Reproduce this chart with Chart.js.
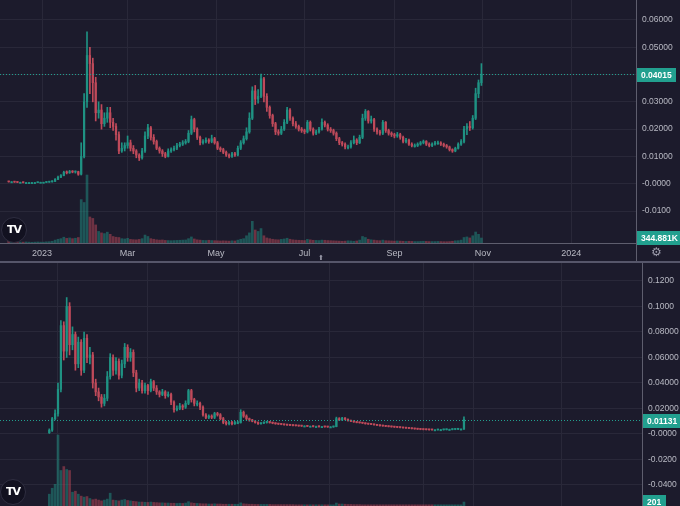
<!DOCTYPE html>
<html>
<head>
<meta charset="utf-8">
<script src="https://cdn.jsdelivr.net/npm/chart.js@4.4.1/dist/chart.umd.min.js"></script>
<style>
  body { margin: 0; background: #1c1b2c; width: 680px; height: 506px; overflow: hidden; position: relative; font-family: 'Liberation Sans', Arial, sans-serif; }
  .pane { position: absolute; left: 0; width: 680px; }
  .sep { position: absolute; left: 0; top: 261px; width: 680px; height: 2px; background: #56566a; }
  .logo { position: absolute; width: 24px; height: 24px; border-radius: 50%; background: #121120; border: 1px solid #2f2e40;
          color: #fff; font: 900 11px 'DejaVu Sans', sans-serif; letter-spacing: -1px; text-align: center; line-height: 24px; }
  .icon { position: absolute; color: #9c9cab; font-family: 'DejaVu Sans', sans-serif; }
</style>
</head>
<body>
<div class="pane" style="top:0;height:261px"><canvas id="topChart"></canvas></div>
<div class="sep"></div>
<div class="pane" style="top:263px;height:243px"><canvas id="bottomChart"></canvas></div>
<div class="logo" style="left:1px;top:217px">TV</div>
<div class="logo" style="left:0px;top:479px">TV</div>
<div class="icon" style="left:651px;top:245px;font-size:12px">⚙</div>
<div class="icon" style="left:318px;top:254px;font-size:7px">⬆</div>
<script>
// upper pane: 2-day candles, day 0 = 3 Dec 2022
const topStartDay = 6, topStepDays = 2, topFirstOpen = 0.0008;
const topCloses = [
  0.0007,0.0007,0.0006,0.0005,0.0005,0.0004,0.0004,0.0004,0.0004,0.0004,
  0.0005,0.0005,0.0005,0.0006,0.0007,0.0009,0.0016,0.0024,0.0030,0.0042,
  0.0040,0.0045,0.0043,0.0044,0.0035,0.0100,0.0300,0.0470,0.0440,0.0370,
  0.0260,0.0270,0.0220,0.0240,0.0260,0.0225,0.0210,0.0180,0.0120,0.0130,
  0.0140,0.0150,0.0130,0.0120,0.0105,0.0095,0.0120,0.0175,0.0205,0.0170,
  0.0155,0.0130,0.0120,0.0110,0.0100,0.0120,0.0125,0.0130,0.0140,0.0145,
  0.0150,0.0155,0.0185,0.0235,0.0200,0.0170,0.0150,0.0155,0.0160,0.0155,
  0.0165,0.0150,0.0130,0.0125,0.0115,0.0105,0.0100,0.0110,0.0105,0.0130,
  0.0150,0.0165,0.0190,0.0240,0.0340,0.0310,0.0320,0.0385,0.0320,0.0280,
  0.0250,0.0220,0.0190,0.0185,0.0200,0.0225,0.0270,0.0240,0.0220,0.0210,
  0.0200,0.0195,0.0190,0.0225,0.0200,0.0185,0.0190,0.0200,0.0225,0.0215,
  0.0200,0.0195,0.0185,0.0165,0.0150,0.0145,0.0135,0.0135,0.0150,0.0160,
  0.0150,0.0170,0.0240,0.0265,0.0230,0.0235,0.0200,0.0190,0.0185,0.0225,
  0.0195,0.0185,0.0180,0.0175,0.0180,0.0170,0.0155,0.0160,0.0145,0.0140,
  0.0140,0.0145,0.0150,0.0155,0.0145,0.0140,0.0145,0.0150,0.0150,0.0145,
  0.0140,0.0135,0.0125,0.0120,0.0130,0.0145,0.0155,0.0200,0.0210,0.0205,
  0.0240,0.0330,0.0370,0.04015
];
const topHighs = [
  0.0009,0.0008,0.0008,0.0007,0.0006,0.0006,0.0005,0.0005,0.0005,0.0005,
  0.0006,0.0006,0.0006,0.0007,0.0008,0.0011,0.0019,0.0028,0.0034,0.0046,
  0.0047,0.0049,0.0048,0.0047,0.0046,0.0150,0.0330,0.0556,0.0500,0.0460,
  0.0390,0.0300,0.0290,0.0260,0.0280,0.0280,0.0240,0.0220,0.0190,0.0150,
  0.0150,0.0175,0.0160,0.0140,0.0125,0.0110,0.0130,0.0190,0.0218,0.0210,
  0.0180,0.0160,0.0135,0.0125,0.0115,0.0128,0.0132,0.0138,0.0148,0.0152,
  0.0158,0.0162,0.0195,0.0248,0.0240,0.0205,0.0175,0.0162,0.0168,0.0165,
  0.0178,0.0170,0.0155,0.0135,0.0130,0.0120,0.0110,0.0115,0.0115,0.0138,
  0.0158,0.0175,0.0205,0.0260,0.0355,0.0360,0.0345,0.0402,0.0390,0.0330,
  0.0285,0.0255,0.0225,0.0198,0.0210,0.0235,0.0280,0.0275,0.0245,0.0228,
  0.0215,0.0206,0.0200,0.0232,0.0230,0.0205,0.0197,0.0207,0.0238,0.0230,
  0.0220,0.0206,0.0200,0.0190,0.0170,0.0155,0.0150,0.0142,0.0158,0.0175,
  0.0165,0.0178,0.0255,0.0272,0.0268,0.0248,0.0240,0.0205,0.0196,0.0232,
  0.0228,0.0200,0.0190,0.0185,0.0188,0.0185,0.0175,0.0166,0.0164,0.0150,
  0.0146,0.0150,0.0155,0.0160,0.0158,0.0150,0.0150,0.0155,0.0156,0.0154,
  0.0149,0.0144,0.0138,0.0128,0.0134,0.0150,0.0162,0.0210,0.0220,0.0228,
  0.0250,0.0350,0.0380,0.0440
];
const topLows = [
  0.0006,0.0006,0.0005,0.0004,0.0004,0.0003,0.0003,0.0003,0.0003,0.0003,
  0.0004,0.0004,0.0004,0.0004,0.0005,0.0006,0.0008,0.0015,0.0022,0.0029,
  0.0036,0.0038,0.0040,0.0039,0.0031,0.0032,0.0095,0.0280,0.0330,0.0300,
  0.0230,0.0240,0.0200,0.0210,0.0225,0.0205,0.0195,0.0160,0.0110,0.0115,
  0.0120,0.0130,0.0120,0.0110,0.0095,0.0085,0.0090,0.0115,0.0165,0.0160,
  0.0145,0.0125,0.0112,0.0100,0.0095,0.0098,0.0115,0.0120,0.0125,0.0135,
  0.0140,0.0145,0.0150,0.0180,0.0190,0.0162,0.0142,0.0145,0.0150,0.0148,
  0.0150,0.0145,0.0125,0.0118,0.0110,0.0100,0.0095,0.0096,0.0100,0.0102,
  0.0125,0.0145,0.0160,0.0185,0.0235,0.0290,0.0295,0.0315,0.0300,0.0265,
  0.0240,0.0210,0.0180,0.0178,0.0180,0.0195,0.0220,0.0232,0.0212,0.0203,
  0.0193,0.0188,0.0183,0.0186,0.0193,0.0178,0.0180,0.0185,0.0196,0.0208,
  0.0193,0.0188,0.0178,0.0158,0.0143,0.0138,0.0128,0.0128,0.0130,0.0146,
  0.0143,0.0147,0.0165,0.0232,0.0222,0.0222,0.0192,0.0182,0.0178,0.0180,
  0.0188,0.0178,0.0173,0.0168,0.0170,0.0163,0.0150,0.0150,0.0140,0.0135,
  0.0134,0.0136,0.0141,0.0146,0.0140,0.0135,0.0136,0.0141,0.0144,0.0140,
  0.0135,0.0130,0.0120,0.0115,0.0117,0.0127,0.0140,0.0150,0.0180,0.0195,
  0.0200,0.0235,0.0315,0.0360
];
// volume in thousands
const topVolumes = [
  120,90,80,70,60,60,70,60,50,60,70,60,60,80,90,120,
  200,260,300,400,320,350,300,330,380,
  3000,2800,4700,1800,1700,1250,800,700,650,750,600,
  450,400,380,300,280,320,250,230,220,250,
  300,550,450,300,260,
  220,200,210,180,170,160,170,180,190,200,210,
  300,420,280,220,200,
  180,170,190,170,160,150,140,150,140,130,150,140,200,260,300,
  500,700,1500,900,800,1000,500,350,300,
  260,230,220,250,280,330,260,220,200,190,180,170,250,220,190,180,170,200,190,170,
  160,150,140,130,120,130,150,140,120,140,200,
  450,380,260,220,200,
  170,160,200,160,150,140,130,140,130,120,110,120,110,100,100,110,120,110,100,100,
  100,110,100,90,90,100,120,150,160,200,
  380,420,350,500,760,600,344.881
];
const topMonthDays = [29, 88, 149, 210, 272, 333, 394];
const topMonthLabels = ['2023', 'Mar', 'May', 'Jul', 'Sep', 'Nov', '2024'];
const topPriceTicks = [-0.01, 0, 0.01, 0.02, 0.03, 0.04, 0.05, 0.06];
const topPriceLabels = ['-0.0100', '-0.0000', '0.01000', '0.02000', '0.03000', '0.04000', '0.05000', '0.06000'];

// lower pane
const bottomStartIndex = 17, bottomFirstOpen = 0.001;
const bottomCloses = [
  0.003,0.012,0.016,0.035,0.085,0.065,0.100,0.070,0.078,0.055,
  0.072,0.050,0.075,0.060,0.062,0.040,0.033,0.029,0.024,0.028,
  0.045,0.060,0.050,0.057,0.046,0.055,0.068,0.060,0.064,0.048,
  0.036,0.040,0.034,0.038,0.034,0.041,0.036,0.033,0.031,0.033,
  0.030,0.031,0.025,0.019,0.020,0.022,0.021,0.024,0.034,0.027,
  0.024,0.024,0.021,0.015,0.013,0.014,0.013,0.016,0.015,0.012,
  0.009,0.008,0.009,0.008,0.009,0.009,0.017,0.014,0.012,0.011,
  0.010,0.009,0.008,0.0085,0.009,0.0095,0.009,0.0085,0.008,0.0078,
  0.0075,0.0072,0.0070,0.0068,0.0066,0.0065,0.0063,0.0062,0.0062,0.0060,
  0.0060,0.0058,0.0058,0.0057,0.0057,0.0056,0.0055,0.0055,0.0058,0.0120,
  0.0110,0.0125,0.0115,0.0105,0.0100,0.0095,0.0090,0.0088,0.0085,0.0080,
  0.0078,0.0075,0.0072,0.0068,0.0065,0.0063,0.0060,0.0058,0.0056,0.0054,
  0.0052,0.0050,0.0048,0.0046,0.0044,0.0042,0.0040,0.0038,0.0036,0.0035,
  0.0034,0.0033,0.0032,0.0032,0.0033,0.0033,0.0034,0.0035,0.0035,0.0036,
  0.0037,0.0038,0.0038,0.01131
];
const bottomHighs = [
  0.004,0.013,0.019,0.040,0.089,0.088,0.107,0.103,0.084,0.080,
  0.076,0.074,0.080,0.078,0.068,0.064,0.043,0.036,0.031,0.031,
  0.049,0.063,0.062,0.060,0.059,0.058,0.071,0.070,0.067,0.066,
  0.050,0.043,0.042,0.040,0.039,0.043,0.042,0.038,0.034,0.035,
  0.034,0.033,0.032,0.026,0.022,0.024,0.023,0.026,0.035,0.035,
  0.028,0.026,0.025,0.022,0.016,0.015,0.015,0.017,0.017,0.016,
  0.013,0.010,0.010,0.010,0.010,0.010,0.019,0.018,0.015,0.0125,
  0.0115,0.0105,0.0095,0.009,0.0096,0.010,0.0098,0.0093,0.0088,0.0083,
  0.0081,0.0078,0.0075,0.0073,0.0071,0.0069,0.0068,0.0066,0.0065,0.0065,
  0.0063,0.0063,0.0061,0.0061,0.0060,0.0060,0.0059,0.0058,0.0062,0.0132,
  0.0128,0.0130,0.0128,0.0118,0.0108,0.0103,0.0098,0.0093,0.0091,0.0088,
  0.0083,0.0081,0.0078,0.0075,0.0071,0.0068,0.0066,0.0063,0.0061,0.0059,
  0.0057,0.0055,0.0053,0.0051,0.0049,0.0047,0.0045,0.0043,0.0041,0.0039,
  0.0038,0.0037,0.0036,0.0035,0.0036,0.0036,0.0037,0.0038,0.0038,0.0039,
  0.0040,0.0041,0.0041,0.0135
];
const bottomLows = [
  0.000,0.002,0.011,0.014,0.033,0.058,0.060,0.062,0.066,0.050,
  0.052,0.046,0.048,0.056,0.055,0.036,0.030,0.026,0.021,0.022,
  0.026,0.043,0.046,0.047,0.043,0.044,0.052,0.057,0.057,0.045,
  0.033,0.034,0.032,0.032,0.031,0.033,0.034,0.031,0.029,0.030,
  0.028,0.029,0.023,0.017,0.018,0.019,0.019,0.020,0.023,0.025,
  0.022,0.022,0.019,0.014,0.012,0.012,0.012,0.012,0.014,0.011,
  0.008,0.007,0.007,0.007,0.0075,0.008,0.0085,0.013,0.011,0.010,
  0.0095,0.0085,0.0075,0.0076,0.008,0.0085,0.0085,0.008,0.0076,0.0074,
  0.0072,0.0069,0.0067,0.0065,0.0063,0.0062,0.0060,0.0059,0.0059,0.0057,
  0.0057,0.0055,0.0055,0.0054,0.0054,0.0053,0.0052,0.0052,0.0052,0.0056,
  0.0105,0.0106,0.0110,0.0100,0.0096,0.0091,0.0087,0.0085,0.0082,0.0077,
  0.0075,0.0072,0.0069,0.0065,0.0062,0.0060,0.0057,0.0055,0.0053,0.0051,
  0.0049,0.0047,0.0045,0.0043,0.0041,0.0039,0.0037,0.0035,0.0033,0.0032,
  0.0031,0.0030,0.0029,0.0029,0.0029,0.0030,0.0030,0.0031,0.0032,0.0032,
  0.0033,0.0034,0.0035,0.0036
];
const bottomVolumes = [
  600,900,1100,3600,1800,2000,1850,1800,700,750,
  600,500,450,480,380,320,350,300,260,300,
  350,650,300,280,260,300,330,280,260,240,
  220,200,200,190,180,200,180,170,160,160,
  150,150,140,140,130,140,130,150,220,160,
  140,130,120,110,110,100,100,110,100,100,
  90,90,90,90,90,90,160,110,100,90,
  90,80,80,80,80,80,80,70,70,70,
  70,70,70,70,70,60,60,60,60,60,
  60,60,60,60,60,60,60,60,60,150,
  100,100,90,80,80,70,70,70,60,60,
  60,60,60,60,60,60,60,60,60,60,
  60,60,60,60,60,60,60,60,60,60,
  60,60,60,60,60,60,60,60,60,60,
  60,60,60,201
];
const bottomGridTicks = [20, 51, 82.4, 113.8, 145.9, 163.4, 193.8];
const bottomPriceTicks = [-0.04, -0.02, 0, 0.02, 0.04, 0.06, 0.08, 0.10, 0.12];
const bottomPriceLabels = ['-0.0400', '-0.0200', '-0.0000', '0.02000', '0.04000', '0.06000', '0.08000', '0.1000', '0.1200'];

const UP = '#1f9283', DOWN = '#bf4a5a', TAG = '#22a08f';
const UP_VOL = 'rgba(31,146,131,0.5)', DOWN_VOL = 'rgba(191,74,90,0.5)';
const GRID = '#292839', TEXT = '#b9bac4', AXIS = '#5e5e6e';
const FONT = "'Liberation Sans Narrow', 'Liberation Sans', Arial, sans-serif";

function buildCandles(closes, highs, lows, vols, firstOpen, xOf) {
  const wicks = [], bodies = [], volumes = [], colors = [], volColors = [];
  closes.forEach((c, i) => {
    const o = i === 0 ? firstOpen : closes[i - 1];
    const x = xOf(i);
    const up = c >= o;
    wicks.push({ x, y: [lows[i], highs[i]] });
    bodies.push({ x, y: [o, c] });
    volumes.push({ x, y: vols[i] });
    colors.push(up ? UP : DOWN);
    volColors.push(up ? UP_VOL : DOWN_VOL);
  });
  return { wicks, bodies, volumes, colors, volColors };
}

function priceTag(ctx, x, y, text, color) {
  ctx.font = 'bold 8.5px ' + FONT;
  const w = Math.ceil(ctx.measureText(text).width) + 8;
  ctx.fillStyle = color;
  ctx.fillRect(x, Math.round(y) - 7, w, 14);
  ctx.fillStyle = '#ffffff';
  ctx.textAlign = 'left';
  ctx.textBaseline = 'middle';
  ctx.fillText(text, x + 4, Math.round(y) + 0.5);
}

const chromePlugin = {
  id: 'chrome',
  afterDatasetsDraw(chart, args, opts) {
    const { ctx, chartArea: a, scales } = chart;
    ctx.save();
    const py = Math.round(scales.y.getPixelForValue(opts.price)) + 0.5;
    ctx.strokeStyle = TAG;
    ctx.lineWidth = 1;
    ctx.setLineDash([1, 2]);
    ctx.beginPath(); ctx.moveTo(a.left, py); ctx.lineTo(a.right, py); ctx.stroke();
    ctx.setLineDash([]);
    ctx.strokeStyle = AXIS;
    ctx.beginPath(); ctx.moveTo(a.right + 0.5, 0); ctx.lineTo(a.right + 0.5, chart.height); ctx.stroke();
    if (opts.baseLine) {
      ctx.beginPath(); ctx.moveTo(0, a.bottom + 0.5); ctx.lineTo(chart.width, a.bottom + 0.5); ctx.stroke();
    }
    priceTag(ctx, a.right + 1, py, opts.priceText, TAG);
    priceTag(ctx, a.right + 1, scales.vol.getPixelForValue(opts.volume), opts.volumeText, TAG);
    ctx.restore();
  }
};

function makeChart(id, c, cfg) {
  return new Chart(document.getElementById(id), {
    type: 'bar',
    data: {
      datasets: [
        { data: c.volumes, yAxisID: 'vol', backgroundColor: c.volColors, barThickness: 2, grouped: false, order: 3 },
        { data: c.wicks, yAxisID: 'y', backgroundColor: c.colors, barThickness: 1, grouped: false, order: 2 },
        { data: c.bodies, yAxisID: 'y', backgroundColor: c.colors, barThickness: 1.6, minBarLength: 1, grouped: false, order: 1 }
      ]
    },
    options: {
      responsive: true,
      maintainAspectRatio: false,
      animation: false,
      events: [],
      layout: { padding: 0 },
      plugins: { legend: { display: false }, tooltip: { enabled: false }, chrome: cfg.tags },
      scales: {
        x: {
          type: 'linear',
          offset: false,
          min: 0,
          max: cfg.xMax,
          border: { display: false },
          grid: { color: GRID, drawTicks: false, tickLength: 0, offset: false },
          afterBuildTicks: s => { s.ticks = cfg.xTicks.map(v => ({ value: v })); },
          afterFit: s => { s.height = cfg.xHeight; s.paddingLeft = 0; s.paddingRight = 0; },
          ticks: {
            display: cfg.xLabels !== null,
            autoSkip: false,
            maxRotation: 0,
            padding: 5,
            color: TEXT,
            font: { family: FONT, size: 9 },
            callback: (v, i) => cfg.xLabels ? cfg.xLabels[i] : ''
          }
        },
        y: {
          position: 'right',
          min: cfg.yMin,
          max: cfg.yMax,
          border: { display: false },
          grid: { color: GRID, drawTicks: false, tickLength: 0 },
          afterBuildTicks: s => { s.ticks = cfg.yTicks.map(v => ({ value: v })); },
          afterFit: s => { s.width = cfg.yWidth; s.paddingTop = 0; s.paddingBottom = 0; },
          ticks: {
            padding: cfg.yPad,
            color: TEXT,
            font: { family: FONT, size: 8.5 },
            callback: (v, i) => cfg.yLabels[i]
          }
        },
        vol: { display: false, min: 0, max: cfg.volMax }
      }
    },
    plugins: [chromePlugin]
  });
}

const topCandles = buildCandles(topCloses, topHighs, topLows, topVolumes, topFirstOpen,
  i => topStartDay + topStepDays * i);
makeChart('topChart', topCandles, {
  xMax: 438.6, xTicks: topMonthDays, xLabels: topMonthLabels, xHeight: 18,
  yMin: -0.0217, yMax: 0.0673, yTicks: topPriceTicks, yLabels: topPriceLabels, yWidth: 44, yPad: 6,
  volMax: 16800,
  tags: { price: topCloses[topCloses.length - 1], priceText: '0.04015',
          volume: topVolumes[topVolumes.length - 1], volumeText: '344.881K', baseLine: true }
});

const bottomCandles = buildCandles(bottomCloses, bottomHighs, bottomLows, bottomVolumes, bottomFirstOpen,
  i => bottomStartIndex + i);
makeChart('bottomChart', bottomCandles, {
  xMax: 221.4, xTicks: bottomGridTicks, xLabels: null, xHeight: 0,
  yMin: -0.0565, yMax: 0.1341, yTicks: bottomPriceTicks, yLabels: bottomPriceLabels, yWidth: 38, yPad: 6,
  volMax: 12320,
  tags: { price: bottomCloses[bottomCloses.length - 1], priceText: '0.01131',
          volume: bottomVolumes[bottomVolumes.length - 1], volumeText: '201', baseLine: false }
});
</script>
</body>
</html>
